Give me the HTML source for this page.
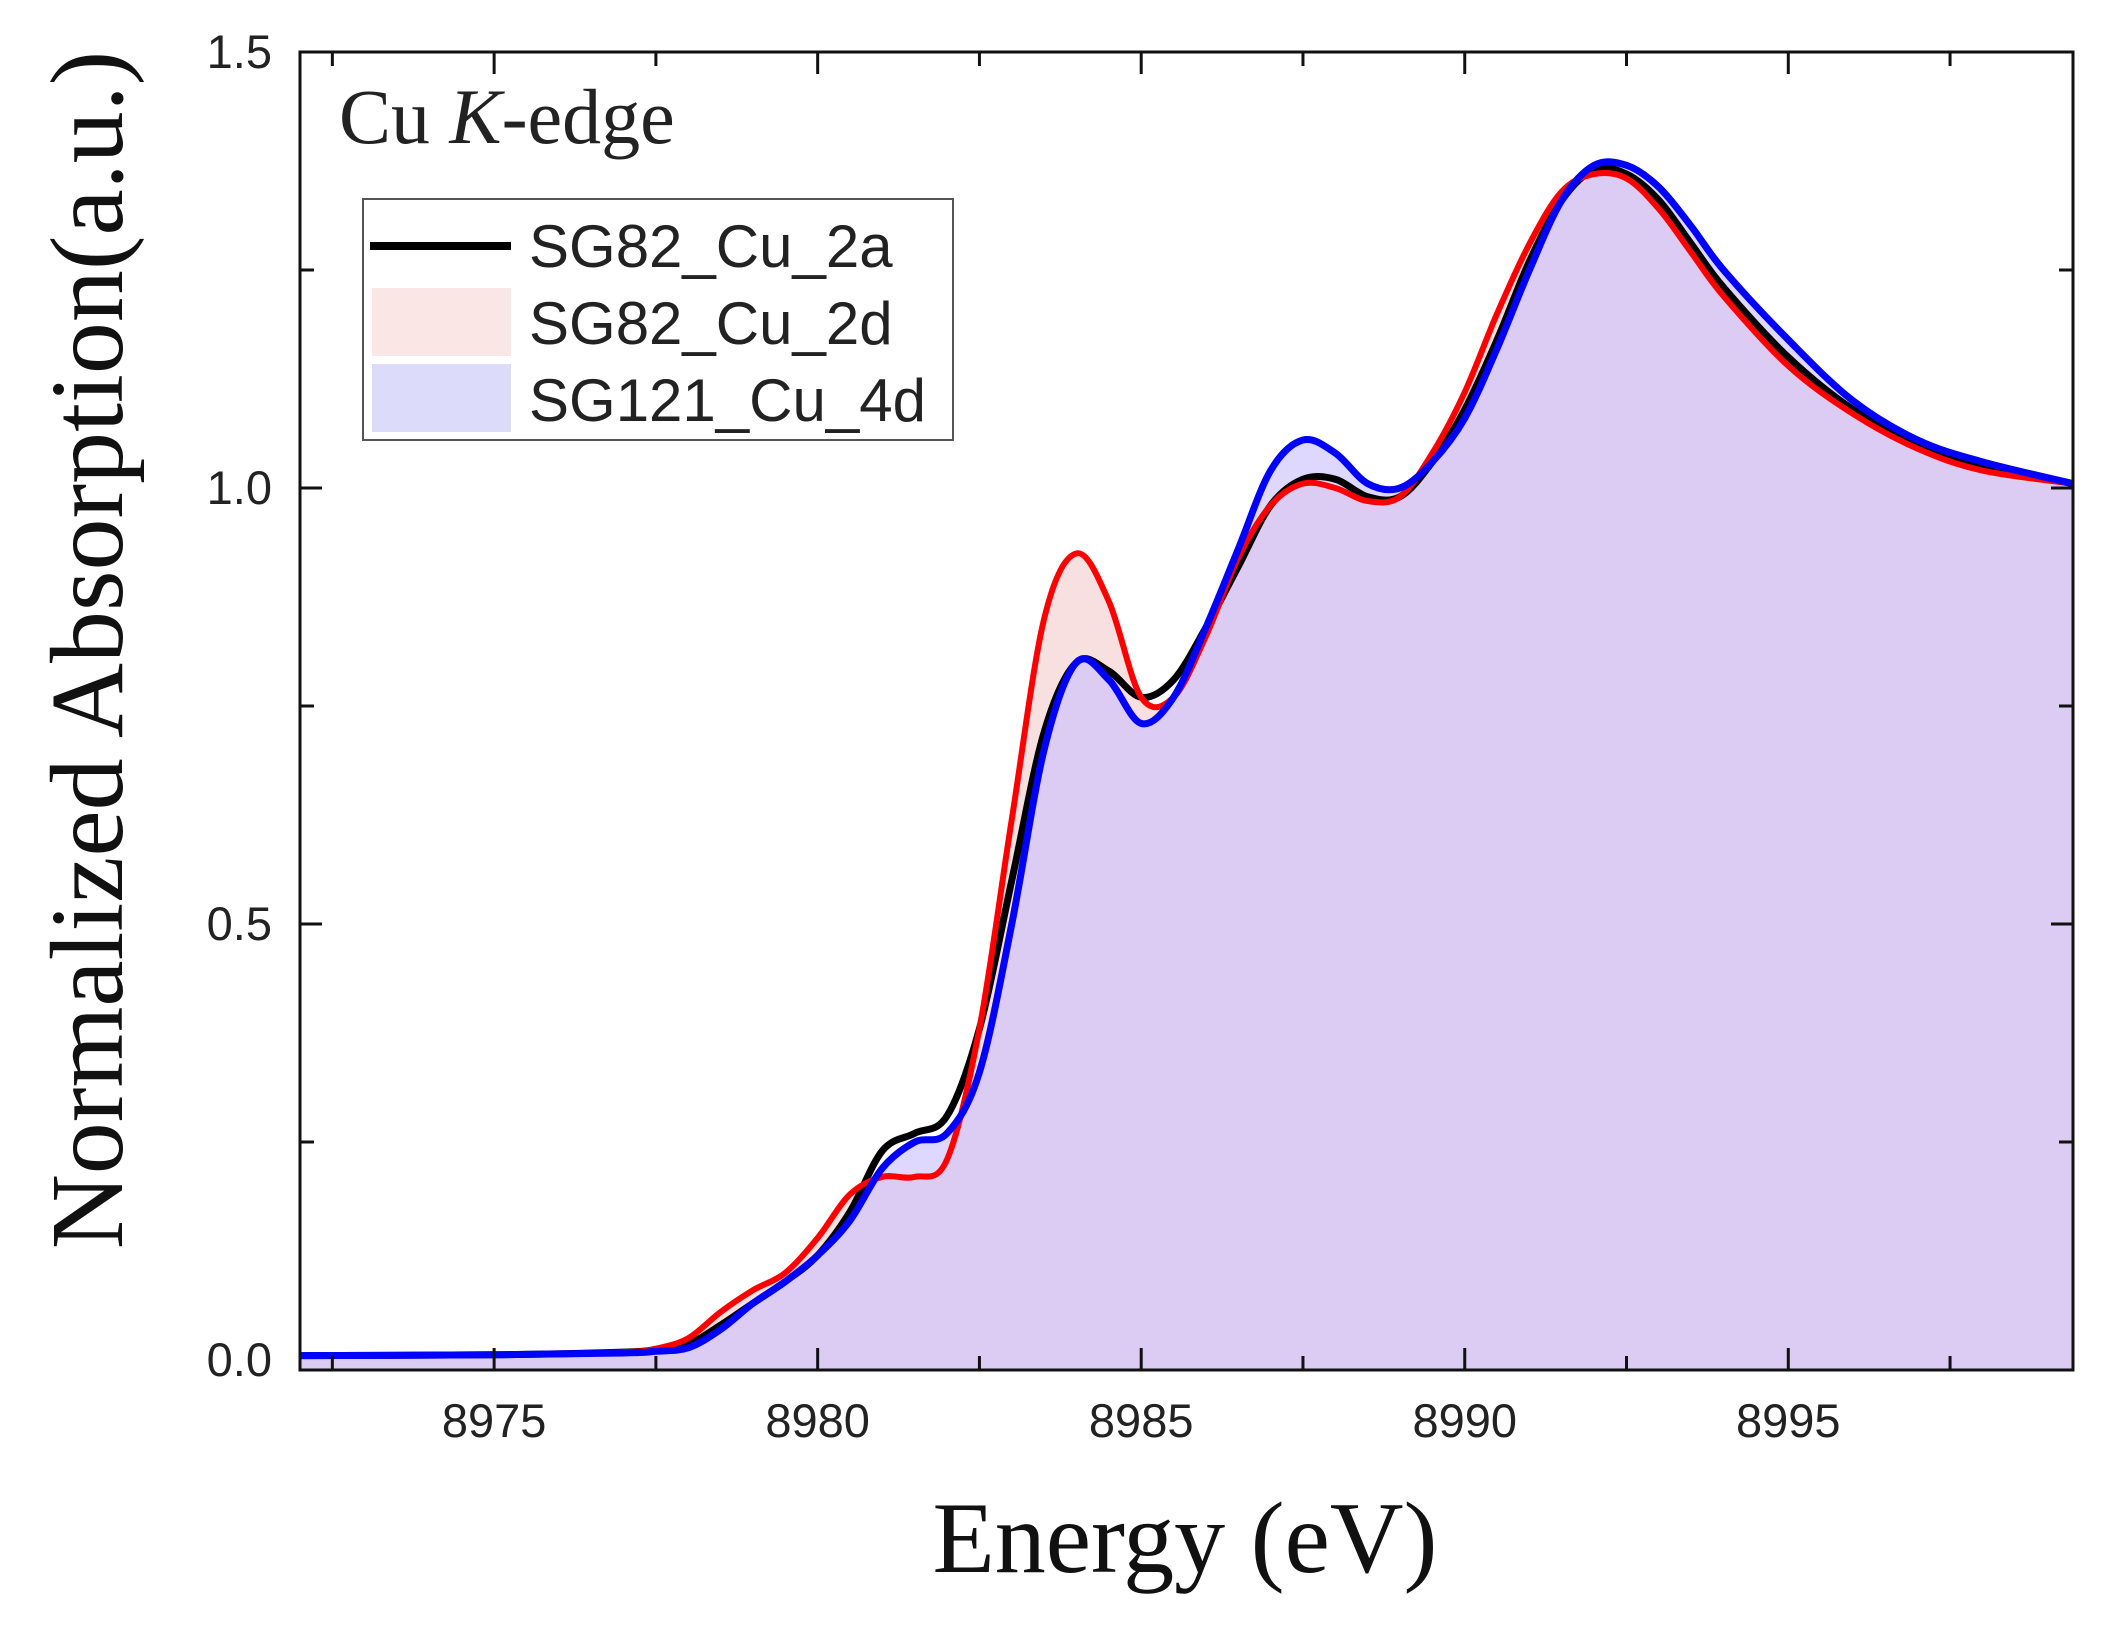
<!DOCTYPE html>
<html><head><meta charset="utf-8"><style>
html,body{margin:0;padding:0;background:#fff;}
svg{display:block;}
</style></head><body>
<svg id="chart" width="2110" height="1630" viewBox="0 0 2110 1630" xmlns="http://www.w3.org/2000/svg">
<g id="fills"></g>
<g id="lines"></g>
<g id="axes"></g>
<text x="339" y="143" font-family="Liberation Serif, serif" font-size="78" fill="#222">Cu <tspan font-style="italic">K</tspan>-edge</text>
<g>
<rect x="363" y="199" width="590" height="241" fill="#fff" stroke="#555" stroke-width="2"/>
<line x1="370" y1="246" x2="511" y2="246" stroke="#000" stroke-width="8"/>
<rect x="372" y="288" width="139" height="68" fill="#fbe6e6"/>
<rect x="372" y="364" width="139" height="68" fill="#dcdcfa"/>
<text x="529" y="267" font-family="Liberation Sans, sans-serif" font-size="60" fill="#222">SG82_Cu_2a</text>
<text x="529" y="344" font-family="Liberation Sans, sans-serif" font-size="60" fill="#222">SG82_Cu_2d</text>
<text x="529" y="421" font-family="Liberation Sans, sans-serif" font-size="60" fill="#222">SG121_Cu_4d</text>
</g>
<text x="1185" y="1572" text-anchor="middle" font-family="Liberation Serif, serif" font-size="102" fill="#111">Energy (eV)</text>
<text transform="translate(122,650) rotate(-90)" text-anchor="middle" font-family="Liberation Serif, serif" font-size="104" fill="#111">Normalized Absorption(a.u.)</text>
</svg>
<script>
const energies = [8972,8975,8977,8977.5,8978,8978.5,8979,8979.5,8980,8980.5,8981,8981.5,8982,8982.5,8983,8983.5,8984,8984.5,8985,8985.5,8986,8986.5,8987,8987.5,8988,8988.5,8989,8989.5,8990,8990.5,8991,8991.5,8992,8992.5,8993,8993.5,8994,8995,8996,8997,8998,8999.4];
const s2a = [0.005,0.006,0.009,0.012,0.018,0.04,0.065,0.09,0.12,0.17,0.24,0.26,0.28,0.38,0.55,0.72,0.8,0.79,0.76,0.78,0.84,0.91,0.98,1.01,1.01,0.99,0.99,1.03,1.09,1.17,1.26,1.33,1.365,1.36,1.33,1.28,1.23,1.15,1.09,1.05,1.025,1.005];
const s2d = [0.005,0.006,0.009,0.013,0.025,0.055,0.08,0.1,0.14,0.19,0.21,0.21,0.23,0.38,0.62,0.85,0.925,0.87,0.76,0.76,0.83,0.92,0.98,1.005,1.0,0.985,0.99,1.04,1.11,1.2,1.28,1.34,1.36,1.355,1.32,1.27,1.22,1.14,1.085,1.045,1.02,1.005];
const s4d = [0.005,0.006,0.008,0.01,0.014,0.035,0.065,0.09,0.12,0.16,0.22,0.25,0.26,0.33,0.5,0.7,0.8,0.78,0.73,0.76,0.84,0.93,1.02,1.055,1.04,1.005,1.0,1.03,1.08,1.16,1.25,1.33,1.37,1.37,1.345,1.3,1.25,1.17,1.1,1.055,1.03,1.005];
const xTicks = [8975,8980,8985,8990,8995];
const yTicks = [0.0,0.5,1.0,1.5];
const yTickLabels = ["0.0","0.5","1.0","1.5"];

const X0=300, X1=2073, Y0=52, Y1=1370, EMIN=8972, EMAX=8999.4;
const VZERO=1360, PXV=(1360-52)/1.5;
function xs(e){return X0+(e-EMIN)/(EMAX-EMIN)*(X1-X0);}
function ys(v){return VZERO-v*PXV;}
const NS="http://www.w3.org/2000/svg";
function mk(tag,attrs,parent){const el=document.createElementNS(NS,tag);for(const k in attrs)el.setAttribute(k,attrs[k]);parent.appendChild(el);return el;}
function pathD(vals){
  const p=energies.map((e,i)=>[xs(e),ys(vals[i])]);
  let d="M"+p[0][0]+","+p[0][1];
  for(let i=0;i<p.length-1;i++){
    const a=p[Math.max(i-1,0)],b=p[i],c=p[i+1],n=p[Math.min(i+2,p.length-1)];
    const c1=[b[0]+(c[0]-a[0])/6,b[1]+(c[1]-a[1])/6],c2=[c[0]-(n[0]-b[0])/6,c[1]-(n[1]-b[1])/6];
    d+=" C"+c1[0]+","+c1[1]+" "+c2[0]+","+c2[1]+" "+c[0]+","+c[1];
  }
  return d;
}
const fills=document.getElementById('fills'),lines=document.getElementById('lines'),axes=document.getElementById('axes');
const f1=mk('path',{d:pathD(s2d)+" L"+xs(EMAX)+","+Y1+" L"+xs(EMIN)+","+Y1+" Z",fill:"#f9e0e0"},fills);


const f2=mk('path',{d:pathD(s4d)+" L"+xs(EMAX)+","+Y1+" L"+xs(EMIN)+","+Y1+" Z",fill:"rgba(200,190,255,0.6)"},fills);


const l1=mk('path',{d:pathD(s2a),fill:"none",stroke:"#000",'stroke-width':7},lines);


const l2=mk('path',{d:pathD(s2d),fill:"none",stroke:"#f00",'stroke-width':6},lines);


const l3=mk('path',{d:pathD(s4d),fill:"none",stroke:"#00f",'stroke-width':7},lines);


const frame=mk('rect',{x:X0,y:Y0,width:X1-X0,height:Y1-Y0,fill:"none",stroke:"#111",'stroke-width':3},axes);


for(let e=8972.5;e<EMAX;e+=2.5){
  const major=xTicks.includes(e), L=major?22:14, x=xs(e);
  mk('line',{x1:x,y1:Y1,x2:x,y2:Y1-L,stroke:"#111",'stroke-width':3},axes);
  mk('line',{x1:x,y1:Y0,x2:x,y2:Y0+L,stroke:"#111",'stroke-width':3},axes);
}
xTicks.forEach(e=>{
  const t=mk('text',{x:xs(e),y:1437,'text-anchor':'middle','font-family':'Liberation Sans, sans-serif','font-size':47,fill:'#222'},axes);
  t.textContent=String(e);
  
  
});
for(let v=0.25;v<1.5;v+=0.25){
  const major=Math.abs(v*2-Math.round(v*2))<1e-9, L=major?22:14, y=ys(v);
  mk('line',{x1:X0,y1:y,x2:X0+L,y2:y,stroke:"#111",'stroke-width':3},axes);
  mk('line',{x1:X1,y1:y,x2:X1-L,y2:y,stroke:"#111",'stroke-width':3},axes);
}
yTicks.forEach((v,i)=>{
  const t=mk('text',{x:272,y:ys(v)+16,'text-anchor':'end','font-family':'Liberation Sans, sans-serif','font-size':47,fill:'#222'},axes);
  t.textContent=yTickLabels[i];
  
  
});
</script>
</body></html>
